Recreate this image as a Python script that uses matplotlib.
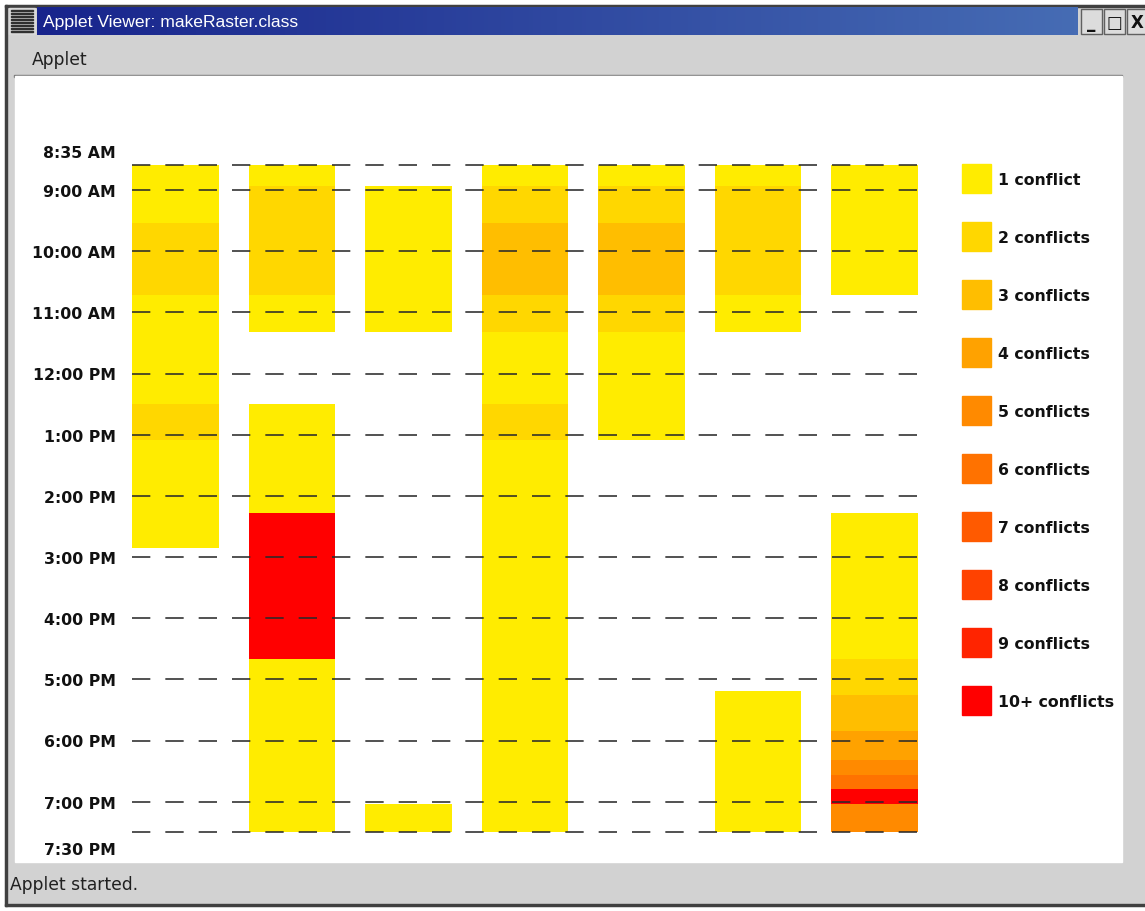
import matplotlib.pyplot as plt
from matplotlib.patches import Rectangle
import numpy as np

plt.rcParams['lines.scale_dashes'] = False

# ---- data ----
# each block: (start, end, number of conflicts), times as 24h "H:MM"
col_1 = [("8:35", "9:32", 1), ("9:32", "10:43", 2), ("10:43", "12:30", 1),
         ("12:30", "13:05", 2), ("13:05", "14:51", 1)]
col_2 = [("8:35", "8:56", 1), ("8:56", "10:43", 2), ("10:43", "11:19", 1),
         ("12:30", "14:17", 1), ("14:17", "16:40", 10), ("16:40", "19:30", 1)]
col_3 = [("8:56", "11:19", 1), ("19:02", "19:30", 1)]
col_4 = [("8:35", "8:56", 1), ("8:56", "9:32", 2), ("9:32", "10:43", 3),
         ("10:43", "11:19", 2), ("11:19", "12:30", 1), ("12:30", "13:05", 2),
         ("13:05", "19:30", 1)]
col_5 = [("8:35", "8:56", 1), ("8:56", "9:32", 2), ("9:32", "10:43", 3),
         ("10:43", "11:19", 2), ("11:19", "13:05", 1)]
col_6 = [("8:35", "8:56", 1), ("8:56", "10:43", 2), ("10:43", "11:19", 1),
         ("17:11", "19:30", 1)]
col_7 = [("8:35", "10:43", 1), ("14:17", "16:40", 1), ("16:40", "17:15", 2),
         ("17:15", "17:51", 3), ("17:51", "18:19", 4), ("18:19", "18:34", 5),
         ("18:34", "18:48", 6), ("18:48", "19:02", 10), ("19:02", "19:30", 5)]
columns = [col_1, col_2, col_3, col_4, col_5, col_6, col_7]

grid_times = ["8:35", "9:00", "10:00", "11:00", "12:00", "13:00", "14:00",
              "15:00", "16:00", "17:00", "18:00", "19:00", "19:30"]
grid_labels = ["8:35 AM", "9:00 AM", "10:00 AM", "11:00 AM", "12:00 PM",
               "1:00 PM", "2:00 PM", "3:00 PM", "4:00 PM", "5:00 PM",
               "6:00 PM", "7:00 PM", "7:30 PM"]

conflict_colors = ["#FFEC00", "#FFD700", "#FFBE00", "#FFA200", "#FF8A00",
                   "#FF7200", "#FF5A00", "#FF4200", "#FF2400", "#FF0000"]
conflict_labels = ["1 conflict", "2 conflicts", "3 conflicts", "4 conflicts",
                   "5 conflicts", "6 conflicts", "7 conflicts", "8 conflicts",
                   "9 conflicts", "10+ conflicts"]


def hours(s):
    h, m = s.split(":")
    return int(h) + int(m) / 60.0


W, H = 1145, 912
fig = plt.figure(figsize=(W / 100, H / 100), dpi=100)

# ---- window chrome, drawn in pixel coordinates ----
bg = fig.add_axes([0, 0, 1, 1])
bg.set_xlim(0, W)
bg.set_ylim(H, 0)
bg.axis('off')

bg.add_patch(Rectangle((0, 0), W, H, color='white'))
bg.add_patch(Rectangle((5, 6), W - 5, 901, color='#d2d2d2'))
bg.add_patch(Rectangle((5, 6), 2, 901, color='#404040'))
bg.add_patch(Rectangle((5, 905), W - 5, 2, color='#404040'))
bg.add_patch(Rectangle((5, 6), W - 5, 2, color='#404040'))

# title bar gradient
grad = np.linspace(0, 1, 256)[None, :, None]
left = np.array([24, 36, 140]) / 255
right = np.array([70, 108, 180]) / 255
bg.imshow(left + (right - left) * grad, extent=(37, 1078, 36, 8),
          aspect='auto', zorder=2)
bg.set_xlim(0, W)
bg.set_ylim(H, 0)
bg.text(43, 22, "Applet Viewer: makeRaster.class", color='white',
        fontsize=12.6, family='Liberation Sans', va='center', ha='left',
        zorder=3)

# system menu icon
bg.add_patch(Rectangle((9, 9), 26, 26, color='#d8d8d8'))
for yy in range(11, 34, 3):
    bg.add_patch(Rectangle((11, yy), 22, 1, color='#303030'))

# window buttons
for bx, glyph in zip([1081, 1104, 1127], ["_", "□", "X"]):
    bg.add_patch(Rectangle((bx, 10), 21, 25, facecolor='#dcdcdc',
                           edgecolor='#606060', lw=1))
    bg.text(bx + 10.5, 23, glyph, fontsize=12, fontweight='bold',
            ha='center', va='center', color='#101010')

# menu bar and status bar
bg.add_patch(Rectangle((14, 76), 1108, 1.5, color='#7a7a7a'))
bg.text(32, 60, "Applet", fontsize=12.3, family='DejaVu Sans', va='center',
        ha='left', color='#202020')
bg.add_patch(Rectangle((15, 77), 1107, 786, color='white'))
bg.text(10, 885, "Applet started.", fontsize=12.3, family='DejaVu Sans',
        va='center', ha='left', color='#202020')

# ---- schedule chart ----
ax_left, ax_right = 132, 918
ax_top, ax_bottom = 165.7, 833.3
ax = fig.add_axes([ax_left / W, 1 - ax_bottom / H,
                   (ax_right - ax_left) / W, (ax_bottom - ax_top) / H])
ax.patch.set_alpha(0)
ax.axis('off')

bar_w = 0.742
for i, col in enumerate(columns):
    for start, end, n in col:
        t0, t1 = hours(start), hours(end)
        ax.bar(i, t1 - t0, bottom=t0, width=bar_w,
               color=conflict_colors[min(n, 10) - 1], linewidth=0, zorder=1)

ax.set_xlim(-bar_w / 2, len(columns) - 1 + bar_w / 2)
ax.set_ylim(hours(grid_times[-1]), hours(grid_times[0]))

for i, (t, lab) in enumerate(zip(grid_times, grid_labels)):
    ax.axhline(hours(t), color='#2a2a2a', lw=1.15,
               linestyle=(0, (13.2, 10.8)), zorder=3, clip_on=False)
    if i == 0:
        dy = 5.7
    elif i == len(grid_times) - 1:
        dy = -15.5
    else:
        dy = -4.2
    ax.annotate(lab, xy=(0, hours(t)), xycoords=('axes fraction', 'data'),
                xytext=(-11.7, dy), textcoords='offset points',
                ha='right', va='baseline', fontsize=11.3, fontweight='bold',
                family='DejaVu Sans', color='#111111', annotation_clip=False)

# ---- legend ----
lg = fig.add_axes([0, 0, 1, 1])
lg.set_xlim(0, W)
lg.set_ylim(H, 0)
lg.axis('off')
lg.patch.set_alpha(0)
sq, step, top0 = 29, 58, 165
for k, (c, lab) in enumerate(zip(conflict_colors, conflict_labels)):
    y = top0 + k * step
    lg.add_patch(Rectangle((962, y), sq, sq, color=c))
    lg.text(998, y + sq / 2 + 5.7, lab, fontsize=11.3, fontweight='bold',
            family='DejaVu Sans', va='baseline', ha='left', color='#111111')

fig.savefig("out.png", dpi=100)
